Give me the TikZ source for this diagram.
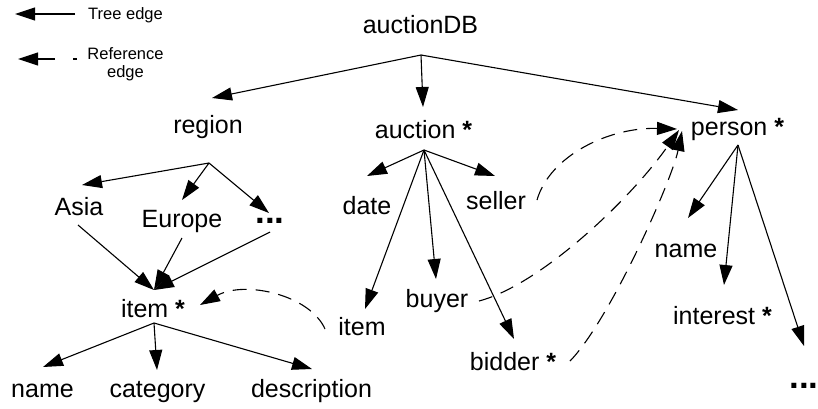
\documentclass[tikz,border=0pt]{standalone}
\usepackage{fontspec}
\setmainfont{Liberation Sans}
\usetikzlibrary{arrows.meta}
\begin{document}
\begin{tikzpicture}[x=1pt,y=1pt,
  lbl/.style={inner sep=0pt, anchor=base, font=\fontsize{25}{30}\selectfont},
  legtext/.style={inner sep=0pt, font=\fontsize{16.5}{18}\selectfont, align=center},
  dotsym/.style={inner sep=0pt, anchor=base, font=\fontsize{35}{40}\selectfont\bfseries},
  tree/.style={line width=1.1pt, -{Triangle[length=20pt,width=13pt]}},
  ref/.style={tree, dash pattern=on 14pt off 9pt},
]
\useasboundingbox (0,0) rectangle (818,-408);

% ---------- legend ----------
\coordinate (legTreeR) at (75,-14);
\coordinate (legTreeL) at (15,-14);
\coordinate (legRefR)  at (77,-59);
\coordinate (legRefL)  at (18,-59);
\draw[tree] (legTreeR) -- (legTreeL);
\draw[ref, dash pattern=on 4pt off 18pt on 100pt] (legRefR) -- (legRefL);
\node[legtext, anchor=base west] (legTree) at (88,-19) {Tree edge};
\node[legtext, anchor=north] (legRef) at (125.5,-47) {Reference\\edge};

% ---------- labels ----------
\node[lbl] (root)     at (420.5,-33) {auctionDB};
\node[lbl] (region)   at (208,-133)  {region};
\node[lbl] (auction)  at (423.5,-138) {auction \textbf{*}};
\node[lbl] (person)   at (737.5,-135) {person \textbf{*}};

\node[lbl] (asia)     at (79,-215)   {Asia};
\node[lbl] (europe)   at (182,-227)  {Europe};
\node[dotsym] (dotsA) at (270,-223)  {...};
\node[lbl] (item)     at (153,-317)  {item \textbf{*}};
\node[lbl] (nameA)    at (42.5,-397) {name};
\node[lbl] (category) at (157.5,-397) {category};
\node[lbl] (descr)    at (311.5,-397) {description};

\node[lbl] (date)     at (367,-214)  {date};
\node[lbl] (seller)   at (496,-209)  {seller};
\node[lbl] (itemB)    at (362,-335)  {item};
\node[lbl] (buyer)    at (437,-307)  {buyer};
\node[lbl] (bidder)   at (513,-370)  {bidder \textbf{*}};

\node[lbl] (nameB)    at (686,-257)  {name};
\node[lbl] (interest) at (722.5,-324) {interest \textbf{*}};
\node[dotsym] (dotsB) at (804,-388)  {...};

% ---------- edge end points ----------
\coordinate (root-out)     at (421,-55);
\coordinate (region-in)    at (212,-98);
\coordinate (auction-in)   at (423,-107);
\coordinate (person-in)    at (738,-110);

\coordinate (region-out)   at (209,-163);
\coordinate (asia-in)      at (82,-185);
\coordinate (europe-in)    at (182,-200);
\coordinate (dotsA-in)     at (269,-213);

\coordinate (asia-out)     at (78,-225);
\coordinate (europe-out)   at (182,-238);
\coordinate (dotsA-out)    at (270,-232);
\coordinate (item-in)      at (154,-290);

\coordinate (item-out)     at (154,-323);
\coordinate (nameA-in)     at (43,-367);
\coordinate (category-in)  at (157,-370);
\coordinate (descr-in)     at (312,-369);

\coordinate (auction-out)  at (424,-150);
\coordinate (date-in)      at (367,-176);
\coordinate (seller-in)    at (495,-176);
\coordinate (itemB-in)     at (365,-309);
\coordinate (buyer-in)     at (436,-279);
\coordinate (bidder-in)    at (514,-339);

\coordinate (person-out)   at (738,-145);
\coordinate (nameB-in)     at (688,-218);
\coordinate (interest-in)  at (724,-285);
\coordinate (dotsB-in)     at (804,-346);

% reference edge ends
\coordinate (seller-ref)   at (537,-200);
\coordinate (buyer-ref)    at (479,-301);
\coordinate (bidder-ref)   at (570,-361);
\coordinate (itemB-ref)    at (325,-329);
\coordinate (person-refA)  at (677,-129);
\coordinate (person-refB)  at (679,-130);
\coordinate (person-refC)  at (682,-131);
\coordinate (item-ref)     at (200,-305);

% ---------- tree edges ----------
\draw[tree] (root-out) -- (region-in);
\draw[tree] (root-out) -- (auction-in);
\draw[tree] (root-out) -- (person-in);

\draw[tree] (region-out) -- (asia-in);
\draw[tree] (region-out) -- (europe-in);
\draw[tree] (region-out) -- (dotsA-in);

\draw[tree] (asia-out) -- (item-in);
\draw[tree] (europe-out) -- (item-in);
\draw[tree] (dotsA-out) -- (item-in);

\draw[tree] (item-out) -- (nameA-in);
\draw[tree] (item-out) -- (category-in);
\draw[tree] (item-out) -- (descr-in);

\draw[tree] (auction-out) -- (date-in);
\draw[tree] (auction-out) -- (seller-in);
\draw[tree] (auction-out) -- (itemB-in);
\draw[tree] (auction-out) -- (buyer-in);
\draw[tree] (auction-out) -- (bidder-in);

\draw[tree] (person-out) -- (nameB-in);
\draw[tree] (person-out) -- (interest-in);
\draw[tree] (person-out) -- (dotsB-in);

% ---------- reference edges ----------
\draw[ref] (seller-ref) .. controls (550,-155) and (610,-127) .. (person-refA);
\draw[ref] (buyer-ref) .. controls (540,-285) and (630,-200) .. (person-refB);
\draw[ref] (bidder-ref) .. controls (610,-320) and (672,-180) .. (person-refC);
\draw[ref] (itemB-ref) .. controls (310,-295) and (245,-280) .. (item-ref);
\end{tikzpicture}
\end{document}
